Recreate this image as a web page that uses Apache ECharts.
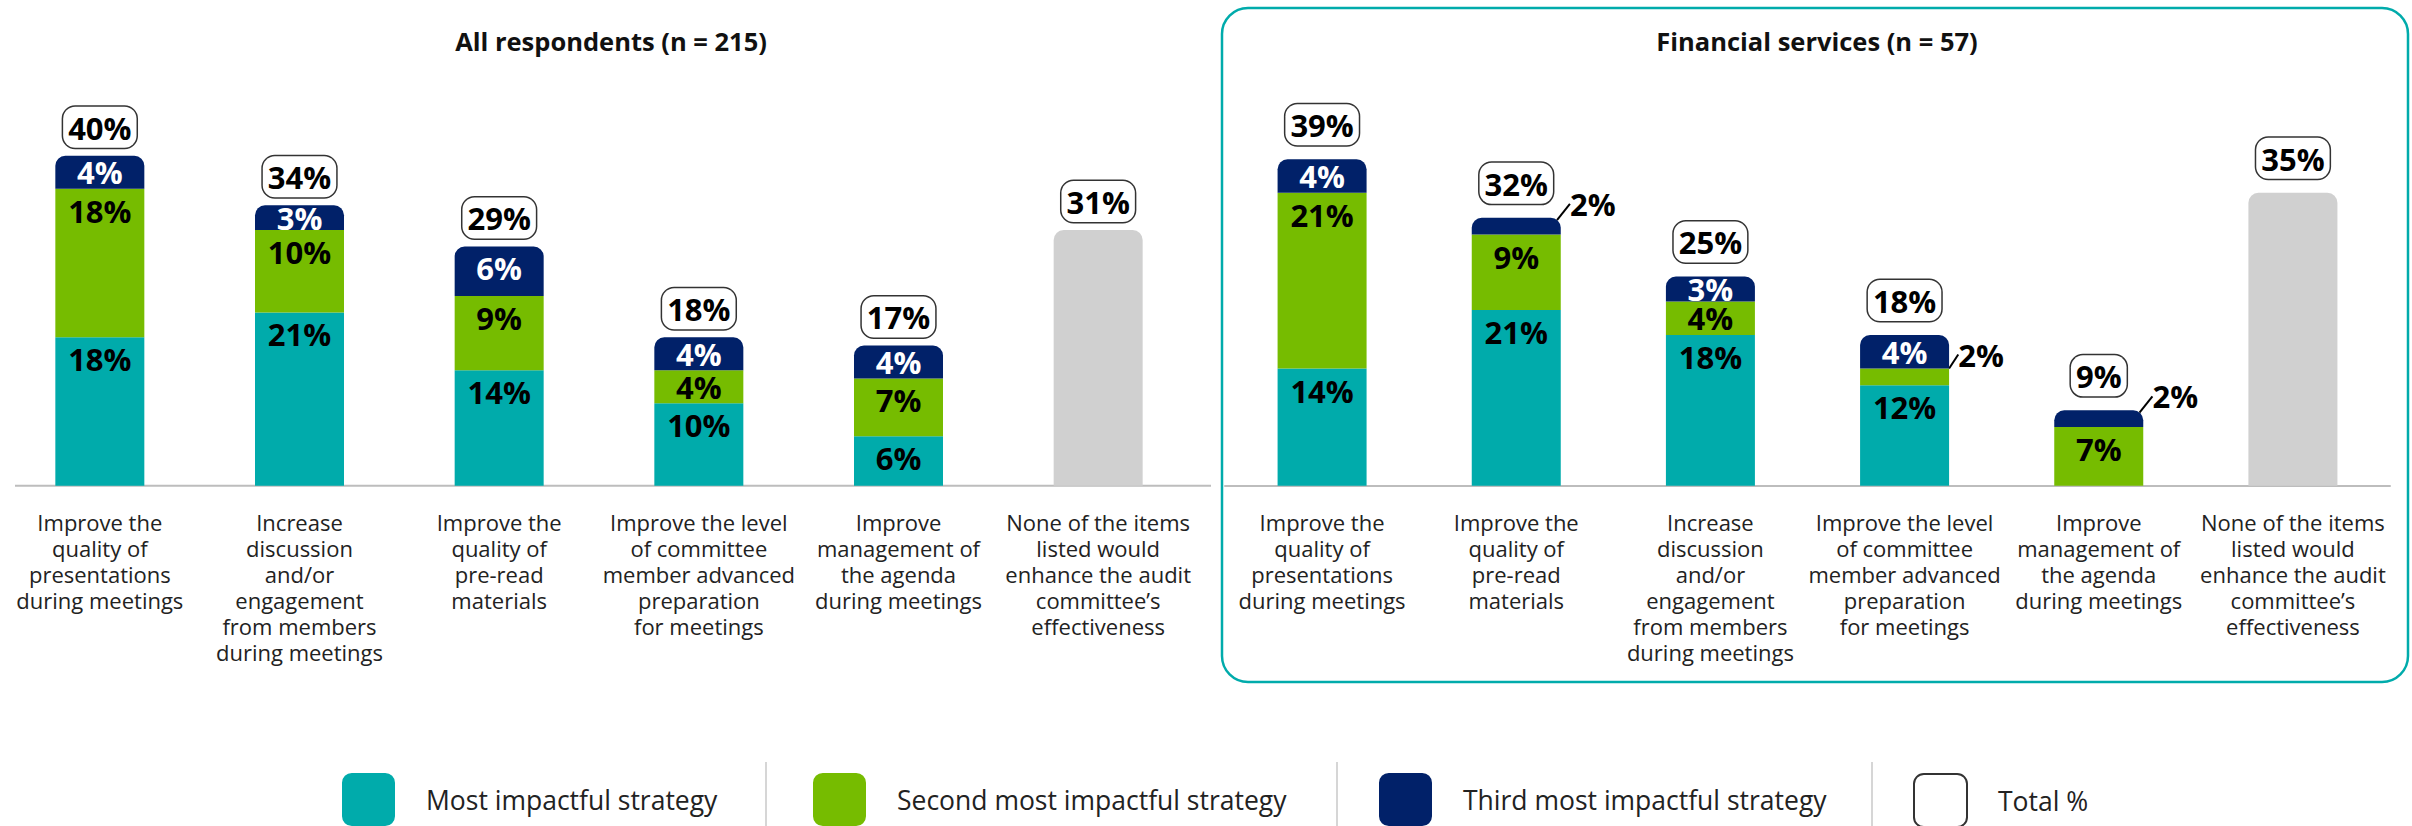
<!DOCTYPE html>
<html>
<head>
<meta charset="utf-8">
<script src="https://cdn.jsdelivr.net/npm/echarts@6/dist/echarts.min.js"></script>
<style>
  html, body { margin: 0; padding: 0; background: #ffffff; }
  #chart { width: 2412px; height: 826px; }
</style>
</head>
<body>
<div id="chart"></div>
<script>
// Strategies that would most improve audit committee meetings (% of respondents)
const allCategories = [
  'Improve the\nquality of\npresentations\nduring meetings',
  'Increase\ndiscussion\nand/or\nengagement\nfrom members\nduring meetings',
  'Improve the\nquality of\npre-read\nmaterials',
  'Improve the level\nof committee\nmember advanced\npreparation\nfor meetings',
  'Improve\nmanagement of\nthe agenda\nduring meetings',
  'None of the items\nlisted would\nenhance the audit\ncommittee\u2019s\neffectiveness'
];
const allMost   = [18, 21, 14, 10, 6, 0];
const allSecond = [18, 10, 9, 4, 7, 0];
const allThird  = [4, 3, 6, 4, 4, 0];
const allTotal  = [40, 34, 29, 18, 17, 31];

const finCategories = [
  'Improve the\nquality of\npresentations\nduring meetings',
  'Improve the\nquality of\npre-read\nmaterials',
  'Increase\ndiscussion\nand/or\nengagement\nfrom members\nduring meetings',
  'Improve the level\nof committee\nmember advanced\npreparation\nfor meetings',
  'Improve\nmanagement of\nthe agenda\nduring meetings',
  'None of the items\nlisted would\nenhance the audit\ncommittee\u2019s\neffectiveness'
];
const finMost   = [14, 21, 18, 12, 0, 0];
const finSecond = [21, 9, 4, 2, 7, 0];
const finThird  = [4, 2, 3, 4, 2, 0];
const finTotal  = [39, 32, 25, 18, 9, 35];

const panelTitles = ['All respondents (n = 215)', 'Financial services (n = 57)'];
const seriesNames = ['Most impactful strategy', 'Second most impactful strategy', 'Third most impactful strategy', 'Total %'];

const COLORS = { most: '#00ABAB', second: '#76BC00', third: '#012169', none: '#D0D0D0' };
const FONT = "'Open Sans', 'Noto Sans', sans-serif";
const BAR_W = 89;

// Panel geometry
const panels = [
  { left: -14, width: 1212, top: 73.2, height: 412.5, totalGap: 8 },
  { left: 1225, width: 1165, top: 67.2, height: 418.5, totalGap: 14 }
];

const isCallout = v => v > 0 && v <= 2;

function segmentLabel(value, pxPerPct, textColor) {
  if (!value) return { show: false };
  if (isCallout(value)) {
    // small segments get a call-out label beside the bar
    return { show: true, position: 'inside', color: '#000', lineHeight: 22 };
  }
  if (value * pxPerPct < 46) {
    return { show: true, position: 'inside', color: textColor };
  }
  return { show: true, position: 'insideTop', distance: 7, color: textColor };
}

function segmentSeries(name, values, color, textColor, gi, pxPerPct, rounded) {
  return {
    name: name,
    type: 'bar',
    stack: 'panel' + gi,
    xAxisIndex: gi,
    yAxisIndex: gi,
    barWidth: BAR_W,
    barGap: '-100%',
    itemStyle: { color: color, borderRadius: rounded ? [10, 10, 0, 0] : 0 },
    label: {
      show: true,
      formatter: '{c}%',
      fontFamily: FONT,
      fontWeight: 'bold',
      fontSize: 31,
      lineHeight: 30
    },
    labelLine: { show: false, lineStyle: { color: '#000', width: 2 } },
    labelLayout: function (p) {
      if (isCallout(values[p.dataIndex])) {
        return {
          x: p.rect.x + p.rect.width + 32,
          y: p.rect.y - 14,
          align: 'center',
          verticalAlign: 'middle'
        };
      }
    },
    emphasis: { disabled: true },
    data: values.map(v => {
      const item = { value: v, label: segmentLabel(v, pxPerPct, textColor) };
      if (isCallout(v)) item.labelLine = { show: true, lineStyle: { color: '#000', width: 2 } };
      return item;
    })
  };
}

function totalSeries(totals, stacks, gi, gap) {
  return {
    name: seriesNames[3],
    type: 'bar',
    xAxisIndex: gi,
    yAxisIndex: gi,
    barWidth: BAR_W,
    barGap: '-100%',
    z: 3,
    itemStyle: {
      borderRadius: [10, 10, 0, 0],
      color: function (p) {
        const stacked = stacks.reduce((s, arr) => s + arr[p.dataIndex], 0);
        return stacked === 0 ? COLORS.none : 'rgba(0,0,0,0)';
      }
    },
    label: {
      show: true,
      position: 'top',
      distance: gap,
      formatter: '{c}%',
      fontFamily: FONT,
      fontWeight: 'bold',
      fontSize: 31,
      lineHeight: 34,
      color: '#000',
      backgroundColor: '#ffffff',
      borderColor: '#333333',
      borderWidth: 1.5,
      borderRadius: 12,
      padding: [4, 5, 3, 5]
    },
    emphasis: { disabled: true },
    data: totals
  };
}

const panelData = [
  { cats: allCategories, most: allMost, second: allSecond, third: allThird, total: allTotal },
  { cats: finCategories, most: finMost, second: finSecond, third: finThird, total: finTotal }
];

const grids = [], xAxes = [], yAxes = [], series = [];
panelData.forEach((d, gi) => {
  const g = panels[gi];
  const pxPerPct = g.height / 50;
  grids.push({ left: g.left, width: g.width, top: g.top, height: g.height });
  xAxes.push({
    type: 'category',
    gridIndex: gi,
    data: d.cats,
    axisTick: { show: false },
    axisLine: { show: gi === 1, lineStyle: { color: '#BDBDBD', width: 2 } },
    axisLabel: {
      interval: 0,
      margin: 23,
      fontFamily: FONT,
      fontSize: 22,
      lineHeight: 26,
      color: '#222222',
      align: 'center'
    }
  });
  yAxes.push({ type: 'value', gridIndex: gi, min: 0, max: 50, show: false, splitLine: { show: false } });
  series.push(segmentSeries(seriesNames[0], d.most, COLORS.most, '#000', gi, pxPerPct, false));
  series.push(segmentSeries(seriesNames[1], d.second, COLORS.second, '#000', gi, pxPerPct, false));
  series.push(segmentSeries(seriesNames[2], d.third, COLORS.third, '#ffffff', gi, pxPerPct, true));
  series.push(totalSeries(d.total, [d.most, d.second, d.third], gi, g.totalGap));
});

// Rounded square legend icon
const ICON = 'path://M10,0 H44 A10,10 0 0 1 54,10 V44 A10,10 0 0 1 44,54 H10 A10,10 0 0 1 0,44 V10 A10,10 0 0 1 10,0 Z';
const legendStyles = [
  { color: COLORS.most },
  { color: COLORS.second },
  { color: COLORS.third },
  { color: '#ffffff', borderColor: '#333333', borderWidth: 2 }
];
const legendLefts = [337, 808, 1374, 1908];
const legends = seriesNames.map((name, i) => ({
  left: legendLefts[i],
  top: 768,
  selectedMode: false,
  itemWidth: 53,
  itemHeight: 53,
  icon: ICON,
  textStyle: { fontFamily: FONT, fontSize: 26.5, color: '#222222', padding: [0, 0, 0, 26] },
  data: [{ name: name, itemStyle: legendStyles[i] }]
}));

const graphic = [
  // framed right-hand panel
  { type: 'rect', shape: { x: 1222, y: 8, width: 1186, height: 674, r: 26 },
    style: { fill: 'none', stroke: '#00ABAB', lineWidth: 2.5 }, silent: true },
  // baseline of the left panel
  { type: 'line', shape: { x1: 15, y1: 485.7, x2: 1211, y2: 485.7 },
    style: { stroke: '#BDBDBD', lineWidth: 2 }, silent: true },
  // panel headings
  { type: 'text', x: 611, y: 41, style: { text: panelTitles[0], font: "bold 25.5px 'Open Sans', sans-serif",
    fill: '#111111', textAlign: 'center', textVerticalAlign: 'middle' } },
  { type: 'text', x: 1817, y: 41, style: { text: panelTitles[1], font: "bold 25.5px 'Open Sans', sans-serif",
    fill: '#111111', textAlign: 'center', textVerticalAlign: 'middle' } }
];
// legend separators
[766, 1337, 1872].forEach(x => graphic.push({
  type: 'line', shape: { x1: x, y1: 762, x2: x, y2: 826 },
  style: { stroke: '#C8C8C8', lineWidth: 1.5 }, silent: true
}));

const chart = echarts.init(document.getElementById('chart'), null, { renderer: 'svg' });
chart.setOption({
  animation: false,
  backgroundColor: '#ffffff',
  grid: grids,
  xAxis: xAxes,
  yAxis: yAxes,
  legend: legends,
  series: series,
  graphic: graphic
});
</script>
</body>
</html>
